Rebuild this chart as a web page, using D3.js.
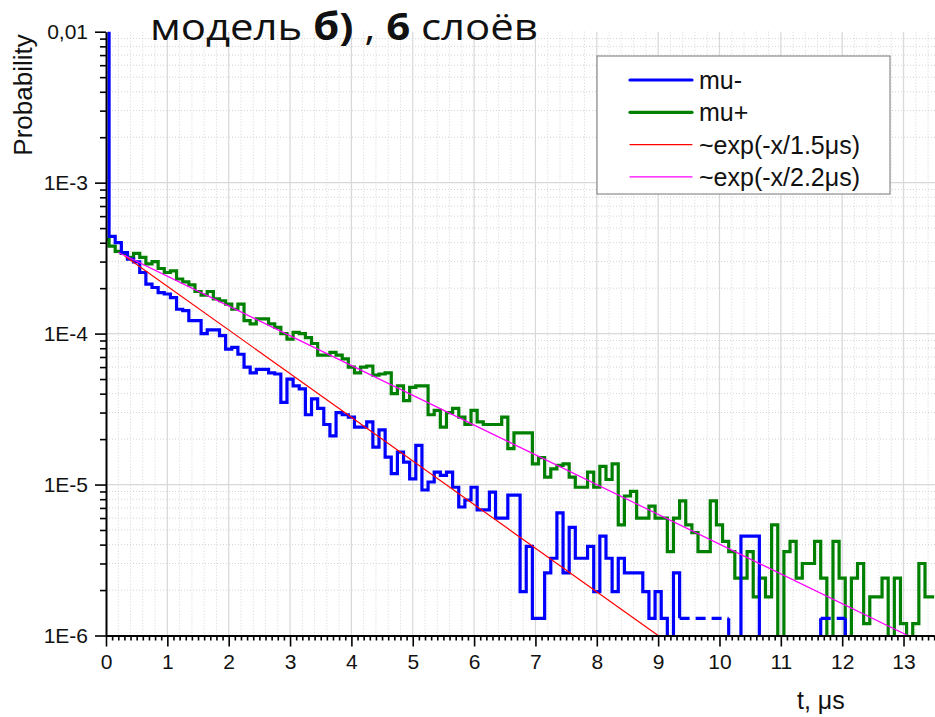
<!DOCTYPE html>
<html>
<head>
<meta charset="utf-8">
<script src="https://cdn.jsdelivr.net/npm/d3@7"></script>
<style>
body { margin: 0; background: #fff; }
text { font-family: "Liberation Sans", Arial, sans-serif; fill: #111; }
</style>
</head>
<body>
<svg id="chart" width="935" height="717"></svg>
<script>
// histogram bins are 0.1 us wide, centred on t = 0.1*i
const binWidth = 0.1

const muMinus = [
    1.2e-2, 4.4e-4, 4.0e-4, 3.44e-4, 3.11e-4, 2.99e-4, 2.54e-4, 2.13e-4, 2.02e-4, 1.87e-4,
    1.83e-4, 1.73e-4, 1.45e-4, 1.42e-4, 1.22e-4, 1.22e-4, 1.0e-4, 1.06e-4, 1.06e-4, 9.7e-5,
    7.9e-5, 8.1e-5, 7.3e-5, 6.0e-5, 5.5e-5, 5.8e-5, 5.8e-5, 5.5e-5, 5.4e-5, 3.5e-5,
    5.0e-5, 4.5e-5, 4.3e-5, 2.9e-5, 3.7e-5, 3.2e-5, 2.5e-5, 2.1e-5, 3.0e-5, 2.9e-5,
    2.8e-5, 2.4e-5, 2.4e-5, 2.6e-5, 1.77e-5, 2.3e-5, 1.52e-5, 1.18e-5, 1.64e-5, 1.41e-5,
    1.09e-5, 1.82e-5, 9.2e-6, 1.04e-5, 1.21e-5, 1.15e-5, 1.21e-5, 9.6e-6, 7.1e-6, 7.9e-6,
    9.6e-6, 6.8e-6, 6.8e-6, 8.9e-6, 6.0e-6, 6.0e-6, 8.5e-6, 8.5e-6, 1.95e-6, 3.9e-6,
    1.3e-6, 1.3e-6, 2.6e-6, 3.25e-6, 6.5e-6, 2.6e-6, 5.2e-6, 3.25e-6, 3.25e-6, 3.9e-6,
    1.95e-6, 4.55e-6, 3.25e-6, 1.95e-6, 3.25e-6, 2.6e-6, 2.6e-6, 2.6e-6, 1.95e-6, 1.3e-6,
    1.95e-6, 1.3e-6, 0, 2.6e-6, 1.3e-6, 1.3e-6, 1.3e-6, 1.3e-6, 1.3e-6, 1.3e-6,
    1.3e-6, 1.3e-6, 0, 0, 4.55e-6, 4.55e-6, 4.55e-6, 0, 0, 0,
    0, 0, 0, 0, 0, 0, 0, 1.3e-6, 1.3e-6, 1.3e-6,
    1.3e-6, 0, 0, 0, 0, 0, 0, 0, 0, 0,
    0, 0, 0, 0, 0, 0
]

const muPlus = [
    4.2e-4, 3.8e-4, 3.5e-4, 3.4e-4, 3.2e-4, 3.4e-4, 3.2e-4, 2.9e-4, 3.0e-4, 2.7e-4,
    2.54e-4, 2.6e-4, 2.3e-4, 2.2e-4, 2.1e-4, 1.9e-4, 1.8e-4, 1.9e-4, 1.7e-4, 1.65e-4,
    1.57e-4, 1.45e-4, 1.57e-4, 1.22e-4, 1.16e-4, 1.25e-4, 1.25e-4, 1.16e-4, 1.10e-4, 1.0e-4,
    9.2e-5, 1.02e-4, 1.0e-4, 9.4e-5, 8.6e-5, 7.2e-5, 7.2e-5, 7.5e-5, 7.2e-5, 6.8e-5,
    6.0e-5, 5.5e-5, 6.0e-5, 6.1e-5, 5.3e-5, 5.4e-5, 5.5e-5, 4.0e-5, 4.5e-5, 3.6e-5,
    4.4e-5, 4.5e-5, 4.5e-5, 2.9e-5, 3.1e-5, 2.4e-5, 3.0e-5, 3.2e-5, 2.8e-5, 2.5e-5,
    3.1e-5, 2.6e-5, 2.5e-5, 2.5e-5, 2.5e-5, 2.8e-5, 1.73e-5, 2.2e-5, 2.2e-5, 2.2e-5,
    1.37e-5, 1.51e-5, 1.12e-5, 1.27e-5, 1.34e-5, 1.37e-5, 1.12e-5, 9.6e-6, 9.6e-6, 1.21e-5,
    9.6e-6, 1.32e-5, 1.08e-5, 1.37e-5, 5.4e-6, 8.4e-6, 9.0e-6, 6.0e-6, 6.0e-6, 7.2e-6,
    6.0e-6, 6.0e-6, 3.6e-6, 6.0e-6, 7.8e-6, 5.4e-6, 4.8e-6, 3.6e-6, 3.6e-6, 7.8e-6,
    5.4e-6, 4.2e-6, 3.6e-6, 2.4e-6, 2.4e-6, 3.6e-6, 1.8e-6, 2.4e-6, 1.8e-6, 5.4e-6,
    0, 3.6e-6, 4.2e-6, 2.4e-6, 3.0e-6, 3.0e-6, 4.2e-6, 2.4e-6, 0, 4.2e-6,
    2.4e-6, 0, 2.4e-6, 3.0e-6, 1.2e-6, 1.8e-6, 1.8e-6, 2.4e-6, 0, 2.4e-6,
    1.2e-6, 0, 1.2e-6, 3.0e-6, 1.8e-6, 1.8e-6
]

// parts of the mu- curve that Origin drew dashed (t ranges, us)
const muMinusDashed = [[9.35, 10.15], [11.65, 12.05]]

// fit lines, two end points each (straight on log scale)
const fitRedT = [0.3, 9.0]
const fitRedV = [3.28e-4, 1e-6]
const fitMagT = [0.2, 13.07]
const fitMagV = [3.45e-4, 1e-6]

const xTicks = d3.range(0, 14)
const yTicks = [1e-2, 1e-3, 1e-4, 1e-5, 1e-6]
const yTickLabels = ['0,01', '1E-3', '1E-4', '1E-5', '1E-6']
const legendNames = ['mu-', 'mu+', '~exp(-x/1.5μs)', '~exp(-x/2.2μs)']
const legendColors = ['#0000ff', '#008000', '#ff0000', '#ff00ff']
const legendWidths = [3.2, 3.2, 1.2, 1.2]

const svg = d3.select('#chart')

const x = d3.scaleLinear().domain([0, 13.5]).range([106, 934.2])
const y = d3.scaleLog().domain([1e-6, 1e-2]).range([635.5, 31.7])
const plotLeft = x.range()[0], plotRight = 935
const plotTop = y.range()[1], plotBottom = y.range()[0]

// minor values
let xMinor = d3.range(0, 13.51, 0.1).filter(d => Math.abs(d - Math.round(d)) > 0.01)
let xMinorGrid = d3.range(0, 13.51, 0.2).filter(d => Math.abs(d - Math.round(d)) > 0.01)
let yMinor = []
for (let e = -6; e < -2; e++) {
    for (let m = 2; m < 10; m++) yMinor.push(m * Math.pow(10, e))
}

// grid
let grid = svg.append('g').attr('class', 'grid')
grid.selectAll('.vminor').data(xMinorGrid).enter().append('line')
    .attr('x1', d => x(d)).attr('x2', d => x(d))
    .attr('y1', plotTop).attr('y2', plotBottom)
    .attr('stroke', '#d4d4d4').attr('stroke-dasharray', '1,2')
grid.selectAll('.hminor').data(yMinor).enter().append('line')
    .attr('x1', plotLeft).attr('x2', plotRight)
    .attr('y1', d => y(d)).attr('y2', d => y(d))
    .attr('stroke', '#d4d4d4').attr('stroke-dasharray', '1,2')
grid.selectAll('.vmajor').data(xTicks.slice(1)).enter().append('line')
    .attr('x1', d => x(d)).attr('x2', d => x(d))
    .attr('y1', plotTop).attr('y2', plotBottom)
    .attr('stroke', '#d8d8d8').attr('stroke-width', 1.2)
grid.selectAll('.hmajor').data(yTicks.slice(1, 4)).enter().append('line')
    .attr('x1', plotLeft).attr('x2', plotRight)
    .attr('y1', d => y(d)).attr('y2', d => y(d))
    .attr('stroke', '#d8d8d8').attr('stroke-width', 1.2)

svg.append('clipPath').attr('id', 'plotclip')
    .append('rect')
    .attr('x', plotLeft).attr('y', plotTop)
    .attr('width', plotRight - plotLeft).attr('height', plotBottom - plotTop)

// step curve: one flat piece per bin, empty bins fall below the axis
function stepVertices(values) {
    let pts = []
    let Y = v => v > 0 ? y(v) : plotBottom + 10
    values.forEach((v, i) => {
        let t0 = Math.max(0, (i - 0.5) * binWidth)
        let t1 = Math.min(x.domain()[1], (i + 0.5) * binWidth)
        pts.push([t0, Y(v)], [t1, Y(v)])
    })
    return pts
}

function splitRuns(pts, dashed) {
    let runs = []
    for (let k = 0; k < pts.length - 1; k++) {
        let tm = (pts[k][0] + pts[k + 1][0]) / 2
        let d = dashed.some(r => tm > r[0] + 0.01 && tm < r[1] - 0.01)
        let last = runs[runs.length - 1]
        if (!last || last.dashed != d) {
            runs.push({dashed: d, pts: [pts[k]]})
        }
        runs[runs.length - 1].pts.push(pts[k + 1])
    }
    return runs
}

let stepLine = d3.line().x(p => x(p[0])).y(p => p[1])
let plot = svg.append('g').attr('clip-path', 'url(#plotclip)')

plot.selectAll('.plus').data(splitRuns(stepVertices(muPlus), [])).enter()
    .append('path')
    .attr('d', r => stepLine(r.pts))
    .attr('fill', 'none').attr('stroke', legendColors[1])
    .attr('stroke-width', 3.2).attr('stroke-linejoin', 'miter')

plot.selectAll('.minus').data(splitRuns(stepVertices(muMinus), muMinusDashed)).enter()
    .append('path')
    .attr('d', r => stepLine(r.pts))
    .attr('fill', 'none').attr('stroke', legendColors[0])
    .attr('stroke-width', 3.2).attr('stroke-linejoin', 'miter')
    .attr('stroke-dasharray', r => r.dashed ? '10,6' : null)

let fitLine = d3.line().x(d => x(d[0])).y(d => y(d[1]))
plot.append('path')
    .attr('d', fitLine(d3.zip(fitRedT, fitRedV)))
    .attr('fill', 'none').attr('stroke', legendColors[2]).attr('stroke-width', 1.2)
plot.append('path')
    .attr('d', fitLine(d3.zip(fitMagT, fitMagV)))
    .attr('fill', 'none').attr('stroke', legendColors[3]).attr('stroke-width', 1.2)

// axes
let xAxis = svg.append('g').attr('transform', 'translate(0,' + plotBottom + ')')
    .call(d3.axisBottom(x).tickValues(xTicks).tickSize(11).tickSizeOuter(0).tickPadding(8))
xAxis.append('g')
    .call(d3.axisBottom(x).tickValues(xMinor).tickSize(5).tickFormat(''))
    .select('.domain').remove()
let yAxis = svg.append('g').attr('transform', 'translate(' + plotLeft + ',0)')
    .call(d3.axisLeft(y).tickValues(yTicks).tickFormat((d, i) => yTickLabels[i])
        .tickSize(11).tickSizeOuter(0).tickPadding(7))
yAxis.append('g')
    .call(d3.axisLeft(y).tickValues(yMinor).tickSize(6).tickFormat(''))
    .select('.domain').remove()

svg.selectAll('.domain').attr('stroke', '#000').attr('stroke-width', 2)
svg.selectAll('.tick line').attr('stroke', '#000').attr('stroke-width', 1.6)
xAxis.selectAll('text').attr('font-size', 21).attr('font-family', '"Liberation Sans", Arial, sans-serif').attr('fill', '#111')
yAxis.selectAll('text').attr('font-size', 21).attr('font-family', '"Liberation Sans", Arial, sans-serif').attr('fill', '#111')

svg.append('text')
    .attr('transform', 'translate(32,95) rotate(-90)')
    .attr('text-anchor', 'middle')
    .attr('font-size', 26)
    .text('Probability')

svg.append('text')
    .attr('x', 797).attr('y', 709)
    .attr('font-size', 25)
    .text('t, μs')

// legend
let legend = svg.append('g')
legend.append('rect')
    .attr('x', 597).attr('y', 56).attr('width', 293).attr('height', 138)
    .attr('fill', '#fff').attr('stroke', '#8c8c8c').attr('stroke-width', 1.2)
legendNames.forEach((name, i) => {
    let ly = 80 + i * 32.3
    legend.append('line')
        .attr('x1', 630).attr('x2', 692).attr('y1', ly).attr('y2', ly)
        .attr('stroke', legendColors[i]).attr('stroke-width', legendWidths[i])
        .attr('stroke-linecap', 'round')
    legend.append('text')
        .attr('x', 699).attr('y', ly).attr('dy', '0.36em')
        .attr('font-size', 25)
        .text(name)
})

// title, mixed weights
let title = svg.append('text')
    .attr('x', 150).attr('y', 40.5)
    .style('font-family', '"Open Sans", "Noto Sans", sans-serif')
    .attr('font-size', 37)
title.append('tspan').text('модель ')
title.append('tspan').attr('font-weight', 'bold').text('б)')
title.append('tspan').text(' , ')
title.append('tspan').attr('font-weight', 'bold').text('6')
title.append('tspan').text(' слоёв')
let tw = title.node().getComputedTextLength()
title.attr('transform', 'translate(150,0) scale(' + (388 / tw) + ',1) translate(-150,0)')
</script>
</body>
</html>
